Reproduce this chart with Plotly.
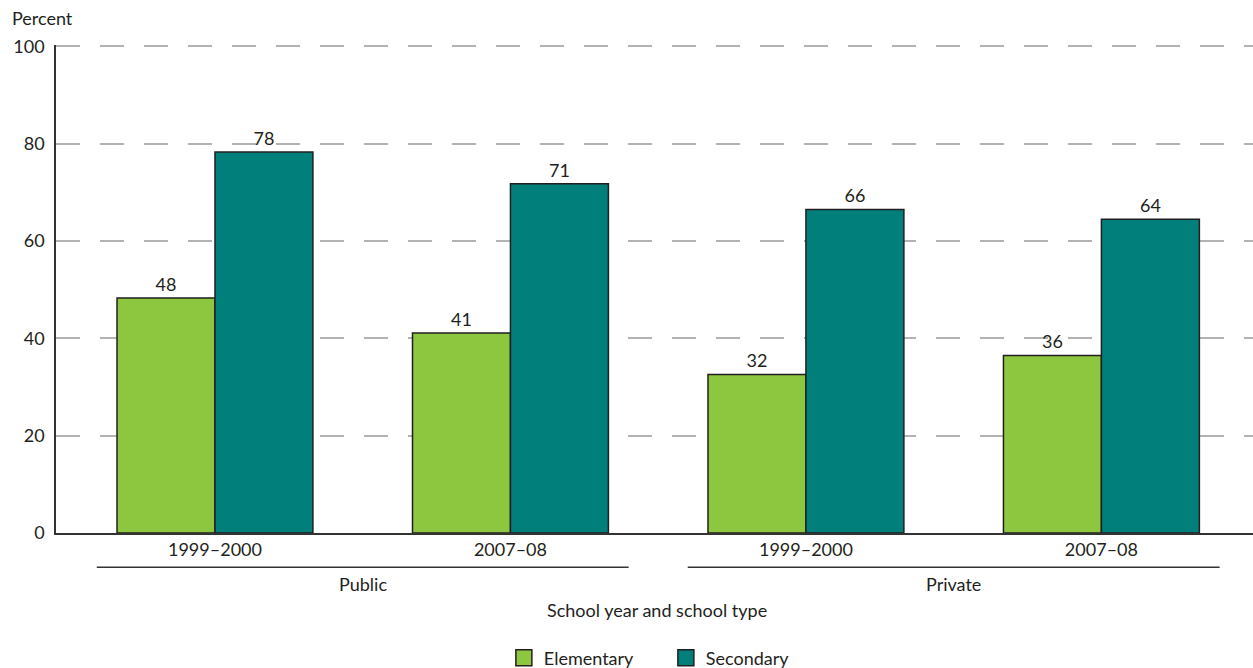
import plotly.graph_objects as go

# ---- data ----
years = ["1999–2000", "2007–08", "1999–2000", "2007–08"]
school_types = ["Public", "Public", "Private", "Private"]
elementary = [48.3, 41.1, 32.6, 36.5]
secondary = [78.3, 71.8, 66.5, 64.5]
elementary_labels = ["48", "41", "32", "36"]
secondary_labels = ["78", "71", "66", "64"]
y_ticks = [0, 20, 40, 60, 80, 100]

FONT = "Lato"
FS = 18
TXT = "#231f20"
GREEN = "#8DC63F"
TEAL = "#007F7B"

pos = list(range(len(years)))

fig = go.Figure()
fig.add_trace(go.Bar(
    x=pos, y=elementary, name="Elementary", text=elementary_labels,
    textposition="outside", cliponaxis=False,
    textfont=dict(family=FONT, size=FS, color=TXT),
    marker=dict(color=GREEN, line=dict(color=TXT, width=1.5)),
    showlegend=False,
))
fig.add_trace(go.Bar(
    x=pos, y=secondary, name="Secondary", text=secondary_labels,
    textposition="outside", cliponaxis=False,
    textfont=dict(family=FONT, size=FS, color=TXT),
    marker=dict(color=TEAL, line=dict(color=TXT, width=1.5)),
    showlegend=False,
))
# legend entries
for nm, col in [("Elementary", GREEN), ("Secondary", TEAL)]:
    fig.add_trace(go.Scatter(
        x=[None], y=[None], mode="markers", name=nm,
        marker=dict(symbol="square", size=16, color=col, line=dict(color=TXT, width=1.5)),
    ))

# group brackets and labels
groups = {}
for i, t in enumerate(school_types):
    groups.setdefault(t, []).append(i)
for t, idx in groups.items():
    c = (min(idx) + max(idx)) / 2
    fig.add_shape(type="line", xref="x", yref="paper",
                  x0=c - 0.9, x1=c + 0.9, y0=-0.07, y1=-0.07,
                  line=dict(color="#333333", width=1.5))
    fig.add_annotation(x=c, y=-0.105, xref="x", yref="paper", text=t,
                       showarrow=False, yanchor="middle",
                       font=dict(family=FONT, size=FS, color=TXT))

fig.add_annotation(x=0.502, y=-0.158, xref="paper", yref="paper",
                   text="School year and school type", showarrow=False,
                   yanchor="middle", font=dict(family=FONT, size=FS, color=TXT))
fig.add_annotation(x=-0.0384, y=1.055, xref="paper", yref="paper",
                   text="Percent", showarrow=False, xanchor="left", yanchor="middle",
                   font=dict(family=FONT, size=FS, color=TXT))

fig.update_layout(
    width=1253, height=668,
    margin=dict(l=56, r=0, t=45, b=135, autoexpand=False),
    paper_bgcolor="white", plot_bgcolor="white",
    barmode="group", bargap=0.337, bargroupgap=0,
    font=dict(family=FONT, size=FS, color=TXT),
    legend=dict(orientation="h", x=0.5095, xanchor="center", y=-0.256, yanchor="middle",
                font=dict(family=FONT, size=FS, color=TXT), itemwidth=30,
                entrywidth=117),
    xaxis=dict(range=[-0.538, 3.513], tickvals=pos, ticktext=years, automargin=False,
               showgrid=False, showline=True, linecolor="#333333", linewidth=1.5,
               ticks="", zeroline=False, tickfont=dict(family=FONT, size=FS, color=TXT)),
    yaxis=dict(range=[0, 100.3], tickvals=y_ticks, showgrid=True, automargin=False,
               gridcolor="#b3b3b3", gridwidth=1.5, griddash="24px,20px",
               showline=True, linecolor="#333333", linewidth=1.5, zeroline=False,
               ticks="", ticklabelstandoff=6,
               tickfont=dict(family=FONT, size=FS, color=TXT)),
)

fig.write_html("out.html", config={"displayModeBar": False},
               post_script="document.body.style.margin='0';document.body.style.overflow='hidden';")
